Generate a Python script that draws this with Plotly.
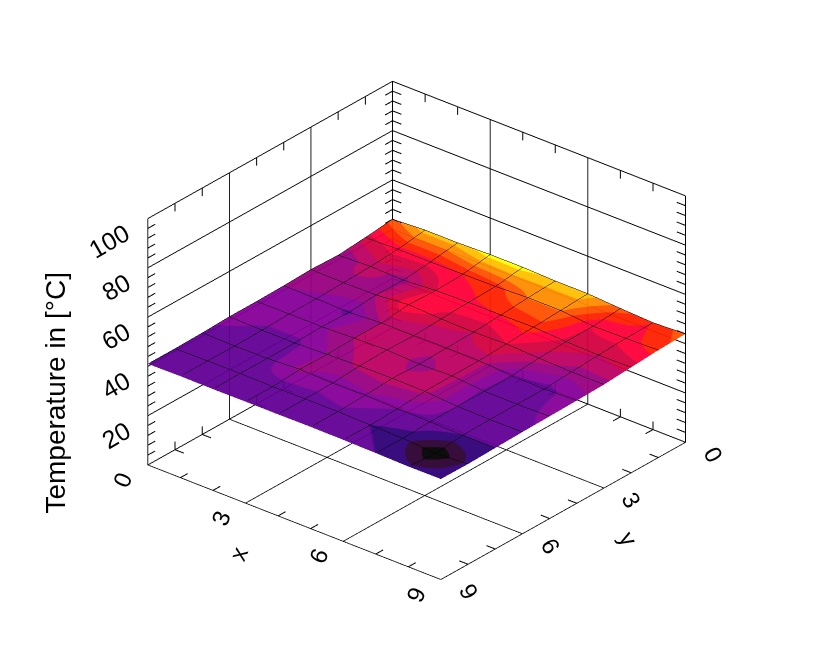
import plotly.graph_objects as go

x_vals = [0, 1, 2, 3, 4, 5, 6, 7, 8, 9]
y_vals = [0, 1, 2, 3, 4, 5, 6, 7, 8, 9]
# rows: y = 0..9, columns: x = 0..9
temperature = [
    [44.0, 44.8, 44.8, 45.2, 45.2, 44.8, 44.8, 44.0, 43.4, 44.0],
    [42.8, 43.2, 43.2, 43.4, 43.6, 44.2, 44.2, 43.0, 43.2, 43.6],
    [41.8, 42.4, 42.0, 43.0, 43.3, 43.4, 43.6, 42.9, 42.6, 42.8],
    [42.2, 42.0, 42.2, 43.4, 42.8, 42.6, 43.0, 42.4, 42.0, 42.0],
    [41.8, 41.7, 41.3, 42.2, 42.2, 42.4, 42.4, 41.4, 41.2, 41.7],
    [41.6, 41.7, 41.7, 42.2, 42.6, 42.0, 42.4, 41.3, 41.2, 41.5],
    [41.6, 41.3, 41.3, 41.8, 42.3, 42.4, 42.3, 41.4, 41.2, 41.3],
    [41.2, 41.05, 41.2, 41.9, 41.5, 41.7, 41.4, 41.3, 41.0, 41.0],
    [41.0, 41.2, 41.3, 41.1, 41.3, 41.3, 41.0, 40.8, 39.8, 40.7],
    [41.0, 41.2, 41.1, 41.2, 41.2, 41.3, 41.2, 41.0, 40.7, 40.8],
]
band_colors = ["#000000", "#2c0030", "#2e0076", "#620094", "#860098", "#98007e", "#bc0062",
               "#d2003e", "#ff0038", "#ff2000", "#ff5000", "#ff8c00", "#ffc000", "#ffff00"]
x_ticks = [0, 3, 6, 9]
y_ticks = [0, 3, 6, 9]
z_ticks = [0, 20, 40, 60, 80, 100]
z_labels = [20, 40, 60, 80, 100]
x_minor = [1, 2, 4, 5, 7, 8]
y_minor = [1, 2, 4, 5, 7, 8]
z_minor = [i for i in range(4, 100, 4) if i % 20]

n = len(band_colors)
scale = []
for i, c in enumerate(band_colors):
    scale += [[i / n, c], [(i + 1) / n, c]]

# The reference axes are left-handed, so the scene's x axis carries y and its y axis carries x.
tz_grid = [list(col) for col in zip(*temperature)]

tx, ty, tz = [], [], []
def seg(a, b):
    # a, b given as (ref x, ref y, z)
    tx.extend([a[1], b[1], None]); ty.extend([a[0], b[0], None]); tz.extend([a[2], b[2], None])
L, H = 0.27, 3.3
for v in x_minor:
    seg((v, 9, 0), (v, 9 - L, 0))
    seg((v, 0, 0), (v, L, 0)); seg((v, 0, 0), (v, 0, H))
    seg((v, 0, 100), (v, 0, 100 - H))
for v in y_minor:
    seg((9, v, 0), (9 - L, v, 0))
    seg((0, v, 0), (L, v, 0)); seg((0, v, 0), (0, v, H))
    seg((0, v, 100), (0, v, 100 - H))
for v in z_minor:
    seg((0, 9, v), (0, 9 - L, v))
    seg((9, 0, v), (9 - L, 0, v))
    seg((0, 0, v), (L, 0, v)); seg((0, 0, v), (0, L, v))

fig = go.Figure()
fig.add_trace(go.Surface(
    x=y_vals, y=x_vals, z=tz_grid, surfacecolor=tz_grid,
    colorscale=scale, cmin=39.8, cmax=45.4, showscale=False, opacity=0.95,
    lighting=dict(ambient=1, diffuse=0, specular=0, roughness=1, fresnel=0),
    hoverinfo="skip",
    contours=dict(
        x=dict(show=True, start=0, end=9, size=1, color="black", width=2),
        y=dict(show=True, start=0, end=9, size=1, color="black", width=2),
        z=dict(show=False),
    ),
))
fig.add_trace(go.Scatter3d(x=tx, y=ty, z=tz, mode="lines", line=dict(color="black", width=2),
                           hoverinfo="skip", showlegend=False))

def axis(ticks, rng):
    return dict(title=dict(text=""), range=rng, tickvals=ticks, showticklabels=False,
                showgrid=True, gridcolor="black", gridwidth=2, showbackground=False,
                showline=False, zeroline=False, ticks="", showspikes=False, autorange=False)

F = dict(family="Liberation Sans", size=24, color="black")
ZF = dict(family="Liberation Sans", size=25, color="black")
ann = []
def label(rx, ry, rz, text, angle, dx, dy, font=F):
    ann.append(dict(x=ry, y=rx, z=rz, text=text, textangle=angle, showarrow=False,
                    xshift=dx, yshift=-dy, font=font))
for v in x_ticks:
    label(v, 9, 0, str(v), -68, -25, 15)
for v in y_ticks:
    label(9, v, 0, str(v), 61, 28, 12)
for v in z_labels:
    label(0, 9, v, str(v), -30, -39 if v == 100 else -32, 22 if v == 100 else 19, ZF)
label(4.5, 9, 0, "x", -68, -56, 31)
label(9, 4.5, 0, "y", 61, 65, 28)
label(0, 9, 50, "Temperature in [°C]", -90, -92, 51, dict(family="Liberation Sans", size=28, color="black"))

fig.update_layout(
    width=831, height=657, margin=dict(l=0, r=0, t=0, b=0),
    paper_bgcolor="white", showlegend=False,
    scene=dict(
        domain=dict(x=[0, 1], y=[0, 1]),
        xaxis=axis(y_ticks, [0, 9]),
        yaxis=axis(x_ticks, [0, 9]),
        zaxis=axis(z_ticks, [0, 100]),
        annotations=ann,
        aspectmode="manual", aspectratio=dict(x=1.162, y=1.162, z=0.849),
        camera=dict(projection=dict(type="orthographic"),
                    center=dict(x=-0.0133, y=0.0159, z=-0.021),
                    up=dict(x=0, y=0, z=1),
                    eye=dict(x=0.676 * 2, y=0.578 * 2, z=0.461 * 2)),
    ),
)
fig.write_html("out.html", config=dict(displayModeBar=False))
